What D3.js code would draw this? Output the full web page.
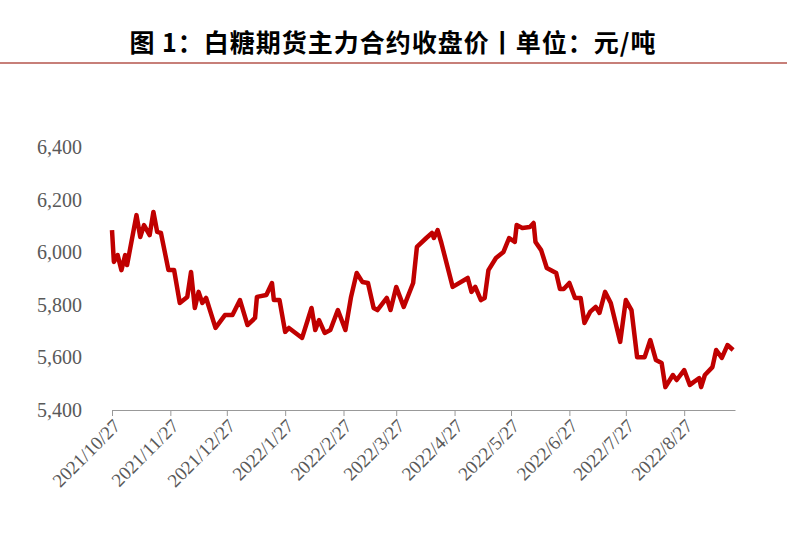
<!DOCTYPE html><html><head><meta charset="utf-8">
<script src="https://d3js.org/d3.v7.min.js"></script>
<style>body{margin:0;background:#fff}</style></head><body>
<svg id="c" width="787" height="535"></svg>
<script>
const dates=["2021-10-27","2021-10-28","2021-10-30","2021-11-01","2021-11-03","2021-11-04","2021-11-09","2021-11-11","2021-11-13","2021-11-16","2021-11-18","2021-11-20","2021-11-22","2021-11-26","2021-11-29","2021-12-02","2021-12-06","2021-12-08","2021-12-10","2021-12-12","2021-12-14","2021-12-16","2021-12-21","2021-12-26","2021-12-30","2022-01-03","2022-01-07","2022-01-11","2022-01-12","2022-01-17","2022-01-20","2022-01-21","2022-01-24","2022-01-27","2022-01-29","2022-02-05","2022-02-10","2022-02-12","2022-02-14","2022-02-17","2022-02-20","2022-02-24","2022-02-28","2022-03-03","2022-03-06","2022-03-09","2022-03-12","2022-03-15","2022-03-17","2022-03-22","2022-03-24","2022-03-27","2022-03-31","2022-04-05","2022-04-07","2022-04-12","2022-04-15","2022-04-16","2022-04-18","2022-04-20","2022-04-26","2022-05-04","2022-05-06","2022-05-08","2022-05-11","2022-05-13","2022-05-15","2022-05-19","2022-05-23","2022-05-26","2022-05-29","2022-05-30","2022-06-02","2022-06-06","2022-06-08","2022-06-09","2022-06-12","2022-06-15","2022-06-20","2022-06-22","2022-06-24","2022-06-27","2022-06-30","2022-07-03","2022-07-05","2022-07-08","2022-07-11","2022-07-13","2022-07-16","2022-07-19","2022-07-24","2022-07-27","2022-07-30","2022-08-02","2022-08-06","2022-08-09","2022-08-12","2022-08-15","2022-08-17","2022-08-21","2022-08-23","2022-08-27","2022-08-30","2022-09-01","2022-09-04","2022-09-05","2022-09-07","2022-09-11","2022-09-13","2022-09-16","2022-09-19","2022-09-22"];
const prices=[6084,5963,5989,5932,5989,5951,6141,6058,6103,6065,6153,6077,6073,5932,5932,5807,5830,5925,5788,5849,5807,5826,5712,5761,5761,5818,5723,5750,5830,5837,5883,5818,5818,5697,5712,5674,5788,5704,5742,5693,5704,5780,5704,5830,5921,5887,5883,5788,5780,5826,5780,5868,5792,5883,6020,6054,6073,6054,6084,6035,5868,5902,5849,5868,5818,5826,5932,5978,6001,6054,6039,6103,6092,6096,6111,6039,6008,5940,5921,5860,5860,5883,5826,5826,5731,5773,5792,5769,5849,5807,5659,5818,5780,5601,5601,5666,5590,5579,5487,5533,5514,5552,5495,5506,5521,5487,5533,5563,5628,5598,5647,5628];
const tickDates=["2021-10-27","2021-11-27","2021-12-27","2022-01-27","2022-02-27","2022-03-27","2022-04-27","2022-05-27","2022-06-27","2022-07-27","2022-08-27"];
const yTicks=[5400,5600,5800,6000,6200,6400];
const title="图 1：白糖期货主力合约收盘价丨单位：元/吨";

const p=d3.timeParse("%Y-%m-%d"), fmt=d3.timeFormat("%Y/%-m/%-d");
const data=dates.map((d,i)=>({d:p(d),v:prices[i]}));
const svg=d3.select("#c");
svg.append("text").attr("x",393).attr("y",52).attr("text-anchor","middle")
 .attr("font-family","Noto Sans CJK SC").attr("font-weight","bold").attr("font-size",25)
 .attr("letter-spacing",1).text(title);
svg.append("line").attr("x1",0).attr("x2",787).attr("y1",63).attr("y2",63).attr("stroke","#b5544c").attr("stroke-width",1.5);
const x=d3.scaleTime().domain([p("2021-10-27"),p("2022-09-23")]).range([112,735]);
const y=d3.scaleLinear().domain([5400,6400]).range([410,147]);
const xa=svg.append("g").attr("transform","translate(0,410)")
 .call(d3.axisBottom(x).tickValues(tickDates.map(p)).tickFormat(fmt).tickSize(6).tickSizeOuter(0));
xa.select(".domain").attr("stroke","#999");
xa.selectAll(".tick line").attr("stroke","#999");
xa.selectAll("text").attr("font-family","Liberation Serif").attr("font-size",19).attr("fill","#595959")
 .attr("text-anchor","end").attr("transform","rotate(-45)").attr("dx","-0.3em").attr("dy","0.5em");
const ya=svg.append("g").attr("transform","translate(82,0)")
 .call(d3.axisLeft(y).tickValues(yTicks).tickSize(0).tickPadding(0));
ya.select(".domain").remove();
ya.selectAll("text").attr("font-family","Liberation Serif").attr("font-size",20).attr("fill","#595959");
svg.append("path").datum(data).attr("fill","none").attr("stroke","#c00000").attr("stroke-width",4.5)
 .attr("stroke-linejoin","round").attr("d",d3.line().x(d=>x(d.d)).y(d=>y(d.v)));
</script></body></html>
